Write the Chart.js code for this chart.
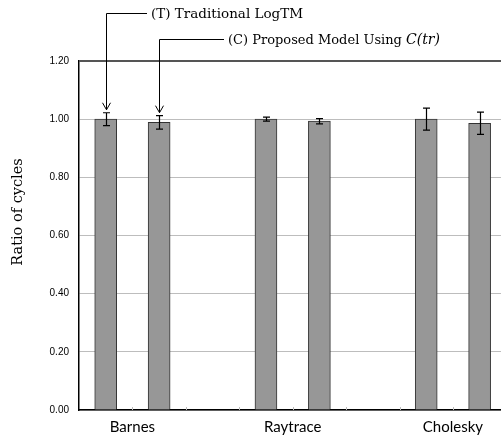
<!DOCTYPE html>
<html>
<head>
<meta charset="utf-8">
<script src="https://cdn.jsdelivr.net/npm/chart.js@4/dist/chart.umd.min.js"></script>
<style>
  html, body { margin: 0; padding: 0; background: #fff; overflow: hidden; }
  #wrap { width: 501px; height: 438px; position: relative; }
</style>
</head>
<body>
<div id="wrap"><canvas id="chart" width="501" height="438"></canvas></div>
<script>
// Data
const benchmarks = ['Barnes', 'Raytrace', 'Cholesky'];
const traditional = [1.00, 1.00, 1.00];
const proposed = [0.989, 0.993, 0.986];
const traditionalErr = [0.022, 0.007, 0.038];
const proposedErr = [0.023, 0.009, 0.038];
const yTicks = [0, 0.2, 0.4, 0.6, 0.8, 1.0, 1.2];
const seriesNames = ['(T) Traditional LogTM', '(C) Proposed Model Using '];

// each benchmark gets 3 slots: T, C, gap
const tPos = benchmarks.map((b, i) => i * 3 + 0.5);
const cPos = benchmarks.map((b, i) => i * 3 + 1.5);
const labelPos = benchmarks.map((b, i) => i * 3 + 1);

const errBars = {
  id: 'errBars',
  afterDatasetsDraw(chart) {
    const { ctx, scales: { x, y } } = chart;
    const errs = [traditionalErr, proposedErr];
    ctx.save();
    ctx.strokeStyle = '#000';
    ctx.lineWidth = 1.2;
    chart.data.datasets.forEach((ds, di) => {
      ds.data.forEach((p, i) => {
        const px = Math.round(x.getPixelForValue(p.x)) + 0.5;
        const top = y.getPixelForValue(p.y + errs[di][i]);
        const bot = y.getPixelForValue(p.y - errs[di][i]);
        ctx.beginPath();
        ctx.moveTo(px, top); ctx.lineTo(px, bot);
        ctx.moveTo(px - 3.5, top); ctx.lineTo(px + 3.5, top);
        ctx.moveTo(px - 3.5, bot); ctx.lineTo(px + 3.5, bot);
        ctx.stroke();
      });
    });
    ctx.restore();
  }
};

const decor = {
  id: 'decor',
  afterDraw(chart) {
    const { ctx, scales: { x, y }, chartArea } = chart;
    ctx.save();
    // small minor tick marks above the x axis
    ctx.strokeStyle = '#bbb';
    ctx.lineWidth = 1;
    for (let v = 1; v <= 7; v++) {
      const px = Math.round(x.getPixelForValue(v)) + 0.5;
      ctx.beginPath();
      ctx.moveTo(px, chartArea.bottom - 3);
      ctx.lineTo(px, chartArea.bottom);
      ctx.stroke();
    }
    // y axis title
    ctx.fillStyle = '#000';
    ctx.font = '14.5px "DejaVu Serif"';
    ctx.textAlign = 'center';
    ctx.textBaseline = 'middle';
    ctx.translate(18, 212);
    ctx.rotate(-Math.PI / 2);
    ctx.fillText('Ratio of cycles', 0, 0);
    ctx.restore();

    // call-out arrows to the first pair of bars
    const arrows = [
      { px: x.getPixelForValue(tPos[0]), tip: y.getPixelForValue(traditional[0] + traditionalErr[0]) - 3, ly: 13.5, lx: 147 },
      { px: x.getPixelForValue(cPos[0]), tip: y.getPixelForValue(proposed[0] + proposedErr[0]) - 3, ly: 39.5, lx: 224 }
    ];
    ctx.save();
    ctx.strokeStyle = '#000';
    ctx.lineWidth = 1;
    arrows.forEach(a => {
      const px = Math.round(a.px) + 0.5;
      ctx.beginPath();
      ctx.moveTo(a.lx, a.ly); ctx.lineTo(px, a.ly); ctx.lineTo(px, a.tip);
      ctx.moveTo(px - 4, a.tip - 7); ctx.lineTo(px, a.tip); ctx.lineTo(px + 4, a.tip - 7);
      ctx.stroke();
    });
    ctx.fillStyle = '#000';
    ctx.textBaseline = 'alphabetic';
    ctx.textAlign = 'left';
    ctx.font = '13.5px "DejaVu Serif"';
    ctx.fillText(seriesNames[0], 151, 18);
    ctx.font = '13px "DejaVu Serif"';
    ctx.fillText(seriesNames[1], 228, 44);
    const w = ctx.measureText(seriesNames[1]).width;
    ctx.font = 'italic 14px "DejaVu Serif"';
    ctx.fillText('C(tr)', 228 + w, 44);
    ctx.restore();
  }
};

new Chart(document.getElementById('chart'), {
  type: 'bar',
  data: {
    datasets: [
      { label: seriesNames[0], data: tPos.map((p, i) => ({ x: p, y: traditional[i] })) },
      { label: seriesNames[1], data: cPos.map((p, i) => ({ x: p, y: proposed[i] })) }
    ].map(ds => Object.assign(ds, {
      backgroundColor: '#979797',
      borderColor: '#333',
      borderWidth: 1,
      barThickness: 22,
      grouped: false
    }))
  },
  options: {
    responsive: false,
    animation: false,
    layout: { padding: { top: 61, left: 0, right: 0, bottom: 0 } },
    plugins: { legend: { display: false }, tooltip: { enabled: false } },
    scales: {
      x: {
        type: 'linear',
        min: 0,
        max: 7.9,
        offset: false,
        afterBuildTicks: s => { s.ticks = [0, 1, 2, 3, 4, 5, 6, 7].map(v => ({ value: v })); },
        afterFit: s => { s.height = 28; },
        ticks: {
          autoSkip: false,
          maxRotation: 0,
          padding: 0,
          color: '#000',
          font: { family: 'Lato', size: 15 },
          callback: v => { const i = labelPos.indexOf(v); return i >= 0 ? benchmarks[i] : ''; }
        },
        grid: { display: false },
        border: { color: '#000', width: 1.5 }
      },
      y: {
        min: 0,
        max: 1.2,
        afterBuildTicks: s => { s.ticks = yTicks.map(v => ({ value: v })); },
        afterFit: s => { s.width = 79; },
        ticks: {
          padding: 10,
          color: '#000',
          font: { family: 'Liberation Sans', size: 10 },
          callback: v => v.toFixed(2)
        },
        grid: {
          drawTicks: false,
          color: c => c.tick && c.tick.value === 1.2 ? '#555' : '#bdbdbd',
          lineWidth: c => c.tick && c.tick.value === 1.2 ? 2 : 1
        },
        border: { color: '#000', width: 1.5 }
      }
    }
  },
  plugins: [errBars, decor]
});
</script>
</body>
</html>
